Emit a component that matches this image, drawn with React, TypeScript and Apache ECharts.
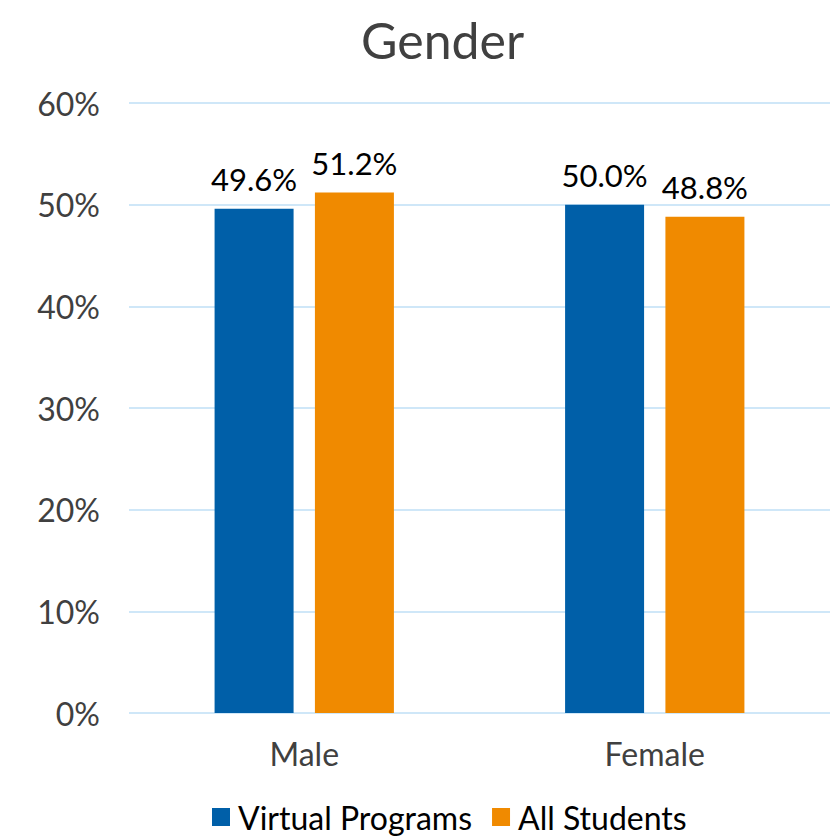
import React, { useEffect, useRef } from "react";
import * as echarts from "echarts";

const categories = ["Male", "Female"];
const virtualPrograms = [49.6, 50.0];
const allStudents = [51.2, 48.8];
const seriesNames = ["Virtual Programs", "All Students"];

export default function App() {
  const ref = useRef<HTMLDivElement>(null);
  useEffect(() => {
    document.body.style.margin = "0";
    if (!ref.current) return;
    const chart = echarts.init(ref.current, null, { renderer: "svg" });
    const font = "Lato, 'Open Sans', sans-serif";
    const label = {
      show: true,
      position: "top" as const,
      distance: 14,
      formatter: (p: any) => p.value.toFixed(1) + "%",
      color: "#000",
      fontSize: 31,
      fontFamily: font,
    };
    chart.setOption({
      animation: false,
      backgroundColor: "#fff",
      title: {
        text: "Gender",
        left: 356,
        top: 10,
        textStyle: { fontSize: 50, fontWeight: "normal", color: "#404040", fontFamily: font },
      },
      legend: {
        bottom: -2,
        left: 207,
        itemWidth: 18,
        itemHeight: 18,
        itemGap: 20,
        icon: "rect",
        textStyle: { fontSize: 32, color: "#000", fontFamily: font, padding: [0, 0, 0, 3] },
        data: seriesNames,
      },
      grid: { left: 129, right: 3, top: 103, bottom: 123 },
      xAxis: {
        type: "category",
        data: categories,
        axisLine: { show: false },
        axisTick: { show: false },
        axisLabel: { fontSize: 32, color: "#404040", fontFamily: font, margin: 24 },
      },
      yAxis: {
        type: "value",
        min: 0,
        max: 60,
        interval: 10,
        axisLabel: {
          formatter: "{value}%",
          fontSize: 32,
          color: "#404040",
          fontFamily: font,
          margin: 29,
        },
        splitLine: { lineStyle: { color: "#cfe7f8", width: 2 } },
      },
      series: [
        {
          name: seriesNames[0],
          type: "bar",
          data: virtualPrograms,
          barWidth: 79,
          barGap: "27%",
          itemStyle: { color: "#005fa8" },
          label,
        },
        {
          name: seriesNames[1],
          type: "bar",
          data: allStudents,
          barWidth: 79,
          barGap: "27%",
          itemStyle: { color: "#f08a00" },
          label,
        },
      ],
    });
    return () => chart.dispose();
  }, []);
  return <div ref={ref} style={{ width: 833, height: 836 }} />;
}
